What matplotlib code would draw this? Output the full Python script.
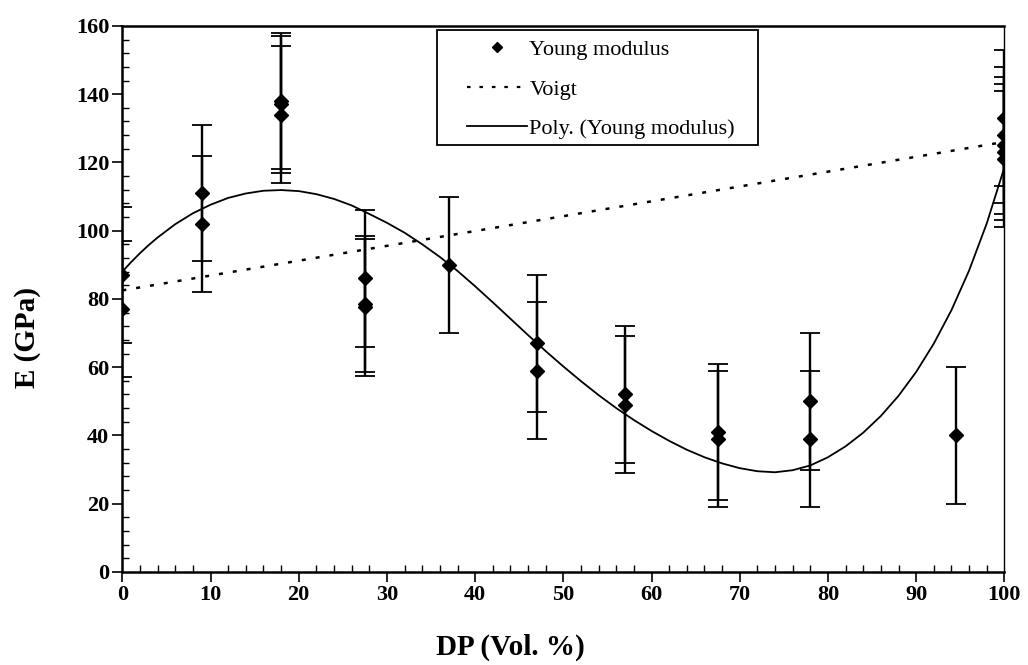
import matplotlib
matplotlib.use("Agg")
import matplotlib.pyplot as plt
from matplotlib import ticker
from matplotlib.lines import Line2D
from matplotlib.patches import Rectangle

plt.rcParams["font.family"] = "Liberation Serif"

# Measured Young modulus (GPa) vs DP content (vol. %)
dp = [0, 0, 9, 9, 18, 18, 18, 27.5, 27.5, 27.5, 37, 47, 47, 57, 57,
      67.5, 67.5, 78, 78, 94.5, 100, 100, 100, 100, 100]
young = [87, 77, 111, 102, 138, 137, 134, 86, 78.5, 77.5, 90, 67, 59, 52, 49,
         41, 39, 50, 39, 40, 133, 128, 125, 123, 121]
young_err = 20

# Voigt bound end points
voigt_dp = [0, 100]
voigt_e = [82.5, 126]

# Polynomial trendline
poly_dp = [0, 1, 2, 3, 4, 6, 8, 10, 12, 14, 16, 18, 20, 22, 24, 26, 28, 30,
           32, 34, 36, 38, 40, 42, 44, 46, 48, 50, 52, 54, 56, 58, 60, 62, 64,
           66, 68, 70, 72, 74, 76, 78, 80, 82, 84, 86, 88, 90, 92, 94, 96, 98, 100]
poly_e = [88, 90.8, 93.4, 95.8, 98.0, 101.9, 105.1, 107.6, 109.6, 110.9, 111.7,
          111.9, 111.6, 110.7, 109.3, 107.4, 104.9, 102.3, 99.4, 96.0, 92.3,
          88.2, 83.7, 79.0, 74.2, 69.4, 64.7, 60.2, 55.9, 51.8, 48.0, 44.5,
          41.3, 38.4, 35.8, 33.6, 31.8, 30.4, 29.5, 29.2, 29.8, 31.2, 33.6,
          36.8, 40.8, 45.7, 51.6, 58.6, 66.9, 76.7, 88.3, 102.1, 118.5]

fig, ax = plt.subplots(figsize=(10.28, 6.65), dpi=100)
fig.subplots_adjust(left=0.119, right=0.977, top=0.961, bottom=0.14)

ax.errorbar(dp, young, yerr=young_err, fmt="D", color="black", ms=7,
            elinewidth=1.7, capsize=7, capthick=1.3, zorder=3)
ax.plot(voigt_dp, voigt_e, color="black", linestyle=(0, (1.6, 4)), lw=1.8)
ax.plot(poly_dp, poly_e, color="black", lw=1.3)

ax.set_xlim(0, 100)
ax.set_ylim(0, 160)
ax.xaxis.set_major_locator(ticker.MultipleLocator(10))
ax.xaxis.set_minor_locator(ticker.MultipleLocator(2))
ax.yaxis.set_major_locator(ticker.MultipleLocator(20))
ax.yaxis.set_minor_locator(ticker.MultipleLocator(4))
ax.tick_params(which="major", direction="out", length=7, width=1.2,
               labelsize=16, pad=2.5)
ax.tick_params(which="minor", direction="in", length=5, width=1)
for lab in ax.get_xticklabels() + ax.get_yticklabels():
    lab.set_fontweight("bold")
ax.set_xlabel("DP (Vol. %)", fontsize=21, fontweight="bold", va="center")
ax.set_ylabel("E (GPa)", fontsize=21, fontweight="bold", va="center")
ax.xaxis.set_label_coords(0.44, -0.139)
ax.yaxis.set_label_coords(-0.107, 0.43)
for side in ["left", "bottom", "top"]:
    ax.spines[side].set_linewidth(1.8)
ax.spines["right"].set_linewidth(1.0)

# legend frame drawn separately so the padding can be uneven like the original
ax.add_patch(Rectangle((0.357, 0.782), 0.364, 0.2105, transform=ax.transAxes,
                       facecolor="white", edgecolor="black", lw=1.3, zorder=4))
handles = [
    Line2D([], [], marker="D", color="black", linestyle="none", ms=5),
    Line2D([], [], color="black", linestyle=(0, (1.6, 4)), lw=1.6),
    Line2D([], [], color="black", lw=1.3),
]
labels = ["Young modulus", "Voigt", "Poly. (Young modulus)"]
leg = ax.legend(handles, labels, loc="upper left", bbox_to_anchor=(0.391, 0.975),
                fontsize=16, frameon=False, handlelength=2.7, handletextpad=0.1,
                labelspacing=0.85, borderpad=0, borderaxespad=0)
leg.set_zorder(5)

fig.savefig("out.png", dpi=100)
